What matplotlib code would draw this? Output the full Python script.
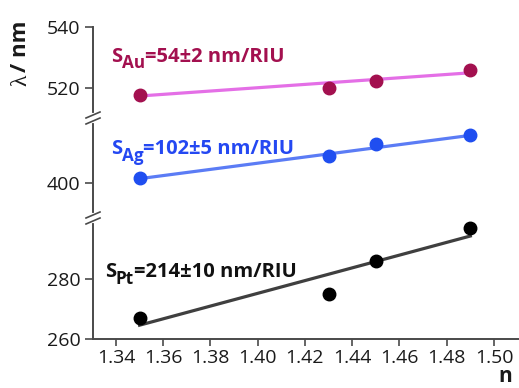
import matplotlib.pyplot as plt
from matplotlib.lines import Line2D

plt.rcParams['font.family'] = ['Open Sans', 'DejaVu Sans']

n = [1.35, 1.43, 1.45, 1.49]
au = [517.8, 520.0, 522.2, 526.0]
ag = [401.6, 408.9, 412.7, 415.7]
pt = [267.0, 275.0, 286.0, 297.0]

au_fit = [517.4, 525.0]
ag_fit = [401.4, 415.6]
pt_fit = [264.6, 294.3]
fit_n = [1.35, 1.49]

x_ticks = [1.34, 1.36, 1.38, 1.40, 1.42, 1.44, 1.46, 1.48, 1.50]

W, H = 519, 388
fig = plt.figure(figsize=(W / 100, H / 100), dpi=100)


def px_axes(top, bottom):
    left = 93 / W
    return fig.add_axes([left, 1 - bottom / H, 1 - left, (bottom - top) / H])


ax_top = px_axes(27, 118)
ax_mid = px_axes(118, 218)
ax_bot = px_axes(218, 339)

spine_col = '#4a4a4a'
tick_fs = 14
for ax in (ax_top, ax_mid, ax_bot):
    ax.set_xlim(1.3303, 1.5106)
    for s in ('top', 'right'):
        ax.spines[s].set_visible(False)
    ax.spines['left'].set_color(spine_col)
    ax.spines['left'].set_linewidth(1.4)
    ax.spines['bottom'].set_visible(False)
    ax.tick_params(axis='y', direction='out', length=6, width=1.2, color=spine_col,
                   labelsize=tick_fs, labelcolor='#1a1a1a', pad=3)
    ax.set_facecolor('none')
    ax.tick_params(axis='x', bottom=False, labelbottom=False)

ax_bot.spines['bottom'].set_visible(True)
ax_bot.spines['bottom'].set_color(spine_col)
ax_bot.spines['bottom'].set_linewidth(1.4)
ax_bot.tick_params(axis='x', bottom=True, labelbottom=True, direction='out', length=5,
                   width=1.2, color=spine_col, labelsize=tick_fs, labelcolor='#1a1a1a', pad=2)
ax_bot.set_xticks(x_ticks)
ax_bot.set_xticklabels(['%.2f' % v for v in x_ticks])

ax_top.set_ylim(510.2, 540)
ax_top.set_yticks([520, 540])
ax_mid.set_ylim(388.5, 421.3)
ax_mid.set_yticks([400])
ax_bot.set_ylim(260, 300.3)
ax_bot.set_yticks([260, 280])

ax_top.plot(fit_n, au_fit, color='#e46fe6', lw=2.3, zorder=2)
ax_top.plot(n, au, 'o', color='#a3104f', ms=9, zorder=3)
ax_mid.plot(fit_n, ag_fit, color='#5b7cf5', lw=2.3, zorder=2)
ax_mid.plot(n, ag, 'o', color='#1f4ef0', ms=9, zorder=3)
ax_bot.plot(fit_n, pt_fit, color='#3f3f3f', lw=2.3, zorder=2)
ax_bot.plot(n, pt, 'o', color='black', ms=9, zorder=3)


def sens_label(ax, x, y, sub, rest, color):
    fs = 14.5
    t = ax.text(x, y, 'S', color=color, fontsize=fs, fontweight='bold',
                va='bottom')
    s = ax.annotate(sub, xy=(1, 0), xycoords=t, xytext=(0, -4),
                    textcoords='offset points', color=color, fontsize=fs * 0.85,
                    fontweight='bold', va='bottom')
    ax.annotate(rest, xy=(1, 0), xycoords=(s, t), color=color, fontsize=fs,
                fontweight='bold', va='bottom')


sens_label(ax_top, 1.3378, 527.0, 'Au', '=54±2 nm/RIU', '#a3104f')
sens_label(ax_mid, 1.3378, 407.8, 'Ag', '=102±5 nm/RIU', '#2448f2')
sens_label(ax_bot, 1.3353, 279.0, 'Pt', '=214±10 nm/RIU', '#111111')

fig.text(21 / W, 1 - 80 / H, 'λ', rotation=90, fontsize=17,
         family='Liberation Serif', ha='center', va='center', color='#1a1a1a')
fig.text(21 / W, 1 - 46 / H, '/ nm', rotation=90, fontsize=16, fontweight='bold',
         ha='center', va='center', color='#1a1a1a')
fig.text(505 / W, 1 - 376 / H, 'n', fontsize=15, fontweight='bold',
         ha='center', va='center', color='#1a1a1a')

# break marks on the y spine
for yb in (118, 218):
    xs = 93
    yy = H - yb
    fig.add_artist(Line2D([xs / W, xs / W], [(yy - 3) / H, (yy + 3) / H],
                          color='white', lw=3, transform=fig.transFigure, zorder=5))
    for dy in (-3, 3):
        fig.add_artist(Line2D([(xs - 7) / W, (xs + 7) / W],
                              [(yy + dy - 3) / H, (yy + dy + 3) / H],
                              color=spine_col, lw=1.2, transform=fig.transFigure, zorder=6))

fig.savefig('out.png', dpi=100)
